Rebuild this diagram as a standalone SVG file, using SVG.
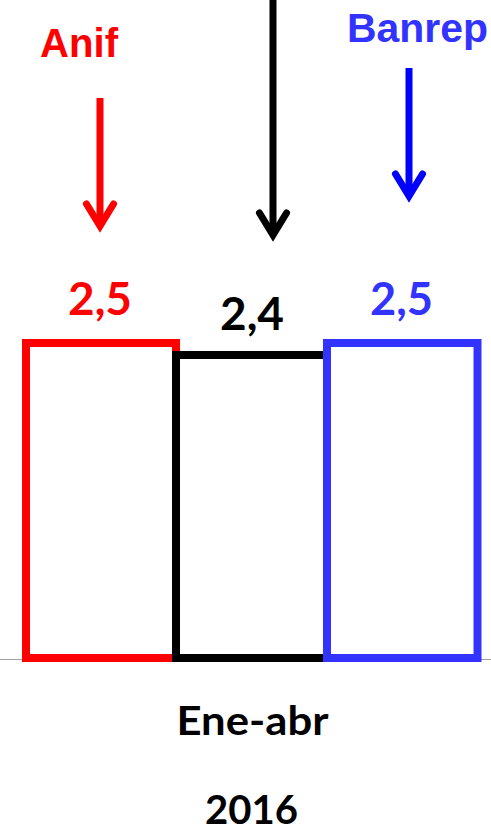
<svg xmlns="http://www.w3.org/2000/svg" width="491" height="829" viewBox="0 0 491 829">
<style>
.lbl{font-family:"Liberation Sans",Arial,sans-serif;font-weight:bold;font-size:40px}
.num{font-family:Lato,"Open Sans",sans-serif;font-weight:bold;text-anchor:middle}
.bar{fill:none;stroke-width:8;stroke-linejoin:miter}
.shaft{fill:none;stroke-width:7;stroke-linecap:butt}
.head{fill:none;stroke-width:7;stroke-linecap:round;stroke-linejoin:miter;stroke-miterlimit:10}
</style>
<rect width="491" height="829" fill="#fff"/>
<line x1="0" y1="659.5" x2="491" y2="659.5" stroke="#a0a0a0" stroke-width="1.2"/>
<g id="bar-anif">
<rect class="bar" x="26" y="343" width="150" height="315" stroke="#ff0000"/>
<text class="num" x="100" y="315" font-size="45" fill="#ff0000" textLength="64" lengthAdjust="spacingAndGlyphs">2,5</text>
</g>
<g id="bar-actual">
<rect class="bar" x="176" y="355" width="151" height="303" stroke="#000"/>
<text class="num" x="252" y="330" font-size="45" fill="#000" textLength="64" lengthAdjust="spacingAndGlyphs">2,4</text>
</g>
<g id="bar-banrep">
<rect class="bar" x="327" y="343" width="150.5" height="315" stroke="#3333ff"/>
<text class="num" x="401.5" y="315" font-size="45" fill="#3333ff" textLength="63" lengthAdjust="spacingAndGlyphs">2,5</text>
</g>
<g id="label-anif">
<text class="lbl" x="40" y="57" fill="#ff0000" textLength="78" lengthAdjust="spacingAndGlyphs">Anif</text>
</g>
<g id="label-banrep">
<text class="lbl" x="347" y="42" fill="#3333ff" textLength="141" lengthAdjust="spacingAndGlyphs">Banrep</text>
</g>
<g id="connectors">
<line class="shaft" x1="100" y1="98" x2="100" y2="226" stroke="#ff0000"/>
<polyline class="head" points="86.5,204 100,226 113.5,204" stroke="#ff0000"/>
<line class="shaft" x1="273" y1="0" x2="273" y2="235" stroke="#000"/>
<polyline class="head" points="259.5,213 273,235 286.5,213" stroke="#000"/>
<line class="shaft" x1="409" y1="68" x2="409" y2="196" stroke="#0000ff"/>
<polyline class="head" points="395.5,174 409,196 422.5,174" stroke="#0000ff"/>
</g>
<g id="axis-labels">
<text class="num" x="252.5" y="735" font-size="40" fill="#000" textLength="152" lengthAdjust="spacingAndGlyphs">Ene-abr</text>
<text class="num" x="251.5" y="824" font-size="40" fill="#000" textLength="93" lengthAdjust="spacingAndGlyphs">2016</text>
</g>
</svg>
